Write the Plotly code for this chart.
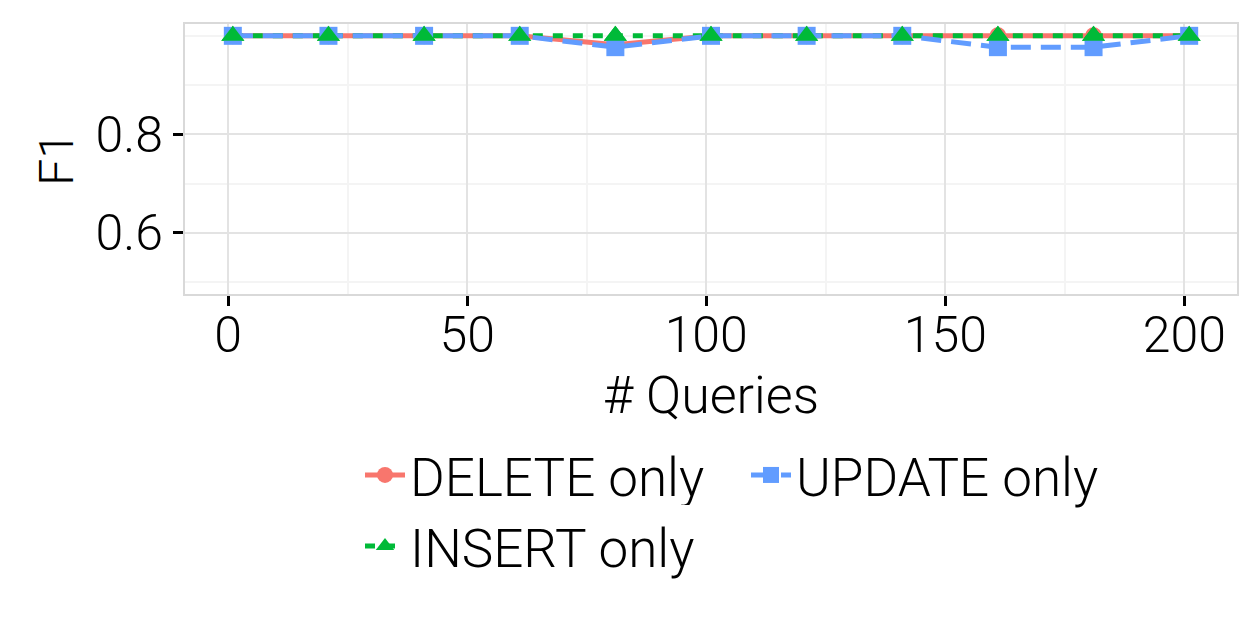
import plotly.graph_objects as go

queries = [1, 21, 41, 61, 81, 101, 121, 141, 161, 181, 201]
delete_f1 = [1.0, 1.0, 1.0, 1.0, 0.982, 1.0, 1.0, 1.0, 1.0, 1.0, 1.0]
insert_f1 = [1.0, 1.0, 1.0, 1.0, 1.0, 1.0, 1.0, 1.0, 1.0, 1.0, 1.0]
update_f1 = [1.0, 1.0, 1.0, 1.0, 0.977, 1.0, 1.0, 1.0, 0.977, 0.977, 1.0]

x_ticks = [0, 50, 100, 150, 200]
y_ticks = [0.6, 0.8]
y_labels = ["0.6", "0.8"]

RED, GREEN, BLUE = "#F8766D", "#00BA38", "#619CFF"
FONT = dict(family="Roboto", size=50, color="black", weight=300)
TITLE_FONT = dict(family="Roboto", size=52, color="black", weight=300)
LEGEND_FONT = dict(family="Roboto", size=53, color="black", weight=300)

fig = go.Figure()
fig.add_trace(go.Scatter(x=queries, y=delete_f1, name="DELETE only", mode="lines+markers",
                         line=dict(color=RED, width=5), legend="legend", legendrank=1,
                         marker=dict(symbol="circle", size=17, color=RED)))
fig.add_trace(go.Scatter(x=queries, y=insert_f1, name="INSERT only", mode="lines+markers",
                         line=dict(color=GREEN, width=5, dash="10px,10px"), legend="legend2",
                         marker=dict(symbol="triangle-up", size=20, color=GREEN)))
fig.add_trace(go.Scatter(x=queries, y=update_f1, name="UPDATE only", mode="lines+markers",
                         line=dict(color=BLUE, width=5, dash="20px,10px"), legend="legend", legendrank=2,
                         marker=dict(symbol="square", size=18, color=BLUE)))
fig.add_trace(go.Scatter(x=queries, y=insert_f1, mode="markers", showlegend=False,
                         marker=dict(symbol="triangle-up", size=20, color=GREEN), hoverinfo="skip"))

fig.update_layout(
    width=1259, height=629,
    margin=dict(l=185, r=22, t=24, b=335),
    paper_bgcolor="white", plot_bgcolor="white",
    font=FONT,
    showlegend=True,
    legend=dict(orientation="h", xref="container", yref="container",
                x=360 / 1259, xanchor="left", y=1 - 434 / 629, yanchor="top",
                entrywidth=331, font=LEGEND_FONT, itemwidth=40),
    legend2=dict(orientation="h", xref="container", yref="container",
                 x=360 / 1259, xanchor="left", y=1 - 505 / 629, yanchor="top",
                 font=LEGEND_FONT, itemwidth=40),
    annotations=[dict(text="# Queries", xref="paper", yref="paper", x=0.5, y=-101 / 270,
                      xanchor="center", yanchor="middle", showarrow=False, font=TITLE_FONT)],
)
fig.update_xaxes(
    range=[-9, 211], tickvals=x_ticks, ticktext=[str(v) for v in x_ticks],
    showgrid=True, gridcolor="#e3e3e3", gridwidth=1.5,
    minor=dict(tickvals=[25, 75, 125, 175], showgrid=True, gridcolor="#f4f4f4", gridwidth=1.5),
    ticks="outside", ticklen=10, tickwidth=3, tickcolor="black", ticklabelstandoff=-14,
    showline=True, linecolor="#d9d9d9", linewidth=2, mirror=True, zeroline=False,
    tickfont=FONT,
)
fig.update_yaxes(
    range=[0.476, 1.024], tickvals=y_ticks, ticktext=y_labels,
    showgrid=True, gridcolor="#e3e3e3", gridwidth=1.5,
    minor=dict(tickvals=[0.5, 0.7, 0.9, 1.0], showgrid=True, gridcolor="#f4f4f4", gridwidth=1.5),
    ticks="outside", ticklen=10, tickwidth=3, tickcolor="black",
    showline=True, linecolor="#d9d9d9", linewidth=2, mirror=True, zeroline=False,
    title=dict(text="F1", standoff=7, font=dict(family="Roboto", size=48, color="black", weight=300)),
    tickfont=FONT,
)

fig.write_html("out.html")
